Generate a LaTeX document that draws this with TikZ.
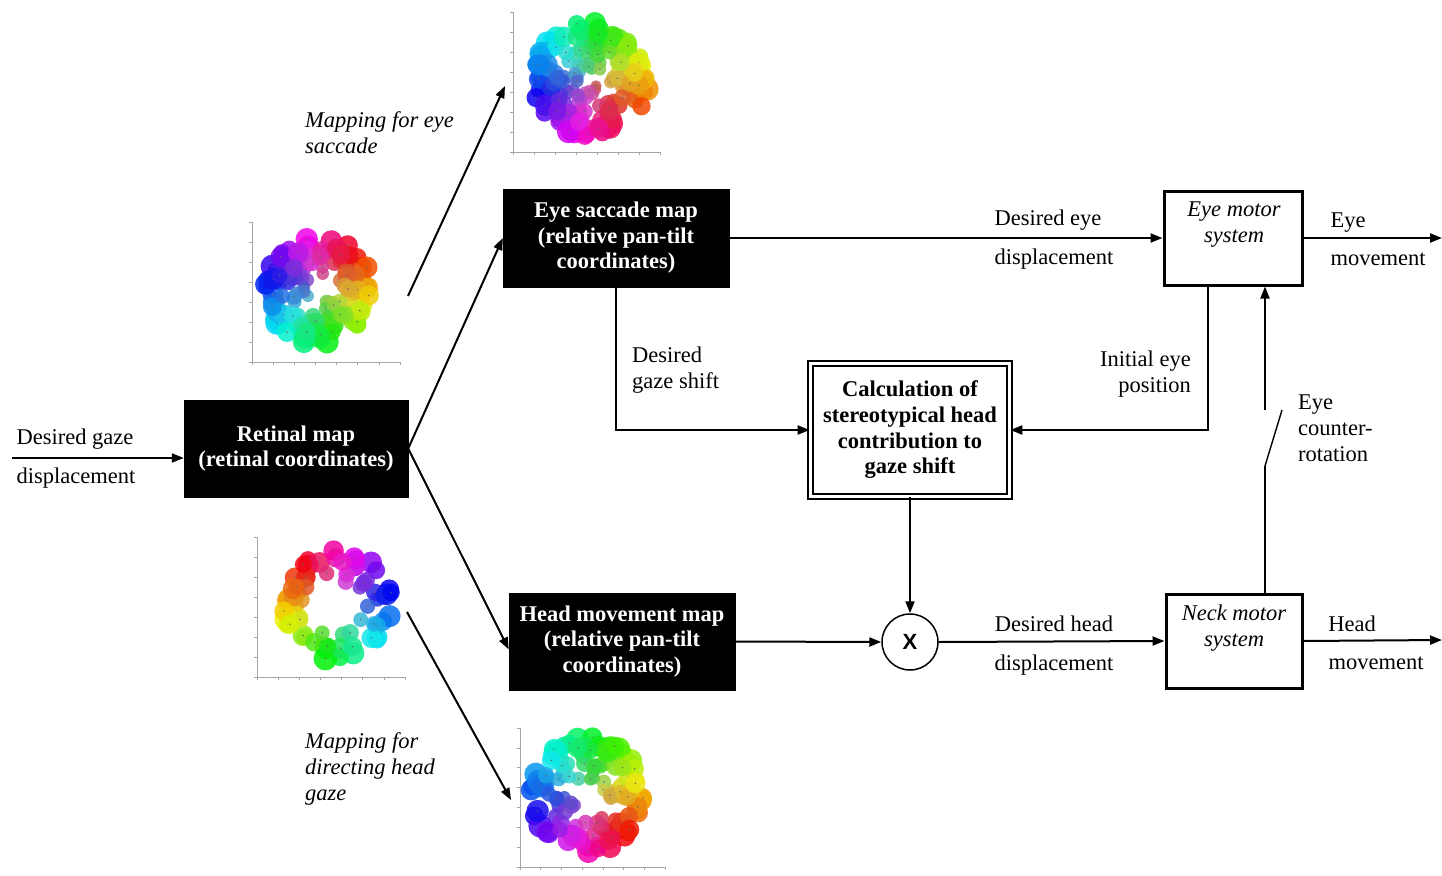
\documentclass[tikz,border=0pt]{standalone}
\usepackage{fontspec}
\setmainfont{Liberation Serif}
\newfontfamily\sansfont{Liberation Sans}
\usetikzlibrary{arrows.meta,calc}
\newcommand\cloud[8]{% cx cy R rmin huesign huephase seed N
  \pgfmathsetseed{#7}
  \foreach \i in {1,...,#8}{
    \pgfmathsetmacro\rr{#3*(#4+(1-#4)*sqrt(rnd))}
    \pgfmathsetmacro\aa{360*rnd}
    \pgfmathsetmacro\hh{mod(#5*\aa+#6+720,360)/360}
    \pgfmathsetmacro\ss{0.5+0.5*\rr/#3}
    \pgfmathsetmacro\bb{0.75+0.2*\rr/#3}
    \pgfmathsetmacro\sz{5+7*(\rr/#3)*(0.5+0.5*rnd)}
    \definecolor{pc}{hsb}{\hh,\ss,\bb}
    \fill[pc,opacity=0.85] ({#1+\rr*cos(\aa)},{#2-\rr*sin(\aa)}) circle (\sz);
    \fill[black!60] ({#1+\rr*cos(\aa)},{#2-\rr*sin(\aa)}) circle (0.8);
  }}
\newcommand\axes[4]{% x0 y0 x1 ytop
  \draw[gray!70,line width=0.7pt] (#1,#4) -- (#1,#2) -- (#3,#2);
  \foreach \k in {0,...,7}{
    \draw[gray!70,line width=0.5pt] ({#1+\k*(#3-#1)/7},#2) -- ++(0,3);
    \draw[gray!70,line width=0.5pt] (#1,{#2-\k*(#2-#4)/7}) -- ++(-3,0);
  }}
\begin{document}
\begin{tikzpicture}[x=1pt,y=-1pt,
  lbl/.style={font=\fontsize{22.5}{26}\selectfont, inner sep=0pt},
  ital/.style={font=\fontsize{22.5}{26}\selectfont\itshape, inner sep=0pt},
  blk/.style={fill=black, draw=black, text=white, font=\fontsize{22.5}{25.5}\selectfont\bfseries, align=center, inner sep=0pt},
  calcbox/.style={draw=black, double=white, line width=1.6pt, double distance=3.5pt, font=\fontsize{22.5}{25.7}\selectfont\bfseries, align=center, inner sep=0pt, fill=white},
  motor/.style={draw=black, line width=3pt, inner sep=0pt},
  conn/.style={line width=2pt, -{Triangle[length=12pt,width=9pt]}},
  wire/.style={line width=2pt},
]
\useasboundingbox (0,0) rectangle (1442,875);
\fill[white] (0,0) rectangle (1442,875);

% scatter plots
\axes{513}{152}{660}{12}
\cloud{590}{80}{58}{0.12}{1}{45}{11}{170}
\axes{252}{362}{400}{222}
\cloud{318}{290}{54}{0.18}{-1}{45}{23}{150}
\axes{257}{677}{405}{537}
\cloud{338}{605}{55}{0.42}{1}{-135}{37}{70}
\axes{520}{867}{665}{728}
\cloud{587}{795}{58}{0.15}{1}{45}{51}{130}

% boxes
\node[blk, minimum width=224pt, minimum height=97pt] (ret) at (296,448.5) {Retinal map\\(retinal coordinates)};
\node[blk, minimum width=226pt, minimum height=98pt] (esm) at (616,238) {Eye saccade map\\(relative pan-tilt\\coordinates)};
\node[blk, minimum width=226pt, minimum height=97pt] (hmm) at (622,641.5) {Head movement map\\(relative pan-tilt\\coordinates)};
\node[calcbox, minimum width=199pt, minimum height=133pt] (calc) at (910,430) {Calculation of\\stereotypical head\\contribution to\\gaze shift};
\node[motor, minimum width=138pt, minimum height=94pt] (eye) at (1233,238) {};
\node[ital, align=center, anchor=north] (eyet) at (1234,202) {Eye motor\\system};
\node[motor, minimum width=136pt, minimum height=94pt] (neck) at (1234,641) {};
\node[ital, align=center, anchor=north] (neckt) at (1234,605) {Neck motor\\system};
\node[draw=black, line width=1.5pt, circle, minimum size=56pt, inner sep=0pt, font=\sansfont\bfseries\fontsize{22}{24}\selectfont] (mult) at (910,642) {X};

% coordinates
\coordinate (in) at (12,458);
\coordinate (m1s) at (408,296);
\coordinate (m1e) at (505,86);
\coordinate (m2s) at (407,612);
\coordinate (m2e) at (511,800);
\coordinate (eout) at (1442,238);
\coordinate (hout) at (1442,640);
\coordinate (sw1) at (1265,466);
\coordinate (sw2) at (1282,410);
\coordinate (sw3) at (1265,410);

% connectors
\draw[conn] (in) -- (ret.west |- in);
\draw[conn] (ret.east) -- (esm.west);
\draw[conn] (ret.east) -- ([yshift=-8pt]hmm.west);
\draw[conn] (m1s) -- (m1e);
\draw[conn] (m2s) -- (m2e);
\draw[conn] (esm.east) -- (eye.west);
\draw[conn] (esm.south) |- (calc.west);
\draw[conn] ([xshift=-25pt]eye.south) |- (calc.east);
\draw[conn] (calc.south) -- (mult.north);
\draw[conn] (hmm.east) -- (mult.west);
\draw[conn] (mult.east) -- (neck.west);
\draw[conn] (eye.east) -- (eout);
\draw[conn] (neck.east) -- (hout);
\draw[wire] ([xshift=31pt]neck.north) -- (sw1);
\draw[line width=1.4pt] (sw1) -- (sw2);
\draw[conn] (sw3) -- ([xshift=32pt]eye.south);

% labels
\node[lbl, anchor=base] (l1) at (75,444) {Desired gaze};
\node[lbl, anchor=base] (l2) at (76,483) {displacement};
\node[ital, align=left, anchor=north west] (l3) at (305,111) {Mapping for eye\\saccade};
\node[ital, align=left, anchor=north west] (l4) at (305,732) {Mapping for\\directing head\\gaze};
\node[lbl, align=left, anchor=north west] (l5) at (632,347) {Desired\\gaze shift};
\node[lbl, align=right, anchor=north east] (l6) at (1191,351) {Initial eye\\position};
\node[lbl, align=left, anchor=north west] (l7) at (1298,395) {Eye\\counter-\\rotation};
\node[lbl, anchor=base] (l8) at (1048,225) {Desired eye};
\node[lbl, anchor=base] (l9) at (1054,264) {displacement};
\node[lbl, anchor=base] (l10) at (1054,631) {Desired head};
\node[lbl, anchor=base] (l11) at (1054,670) {displacement};
\node[lbl, anchor=base] (l12) at (1348,227) {Eye};
\node[lbl, anchor=base] (l13) at (1378,265) {movement};
\node[lbl, anchor=base] (l14) at (1352,631) {Head};
\node[lbl, anchor=base] (l15) at (1376,669) {movement};
\end{tikzpicture}
\end{document}
